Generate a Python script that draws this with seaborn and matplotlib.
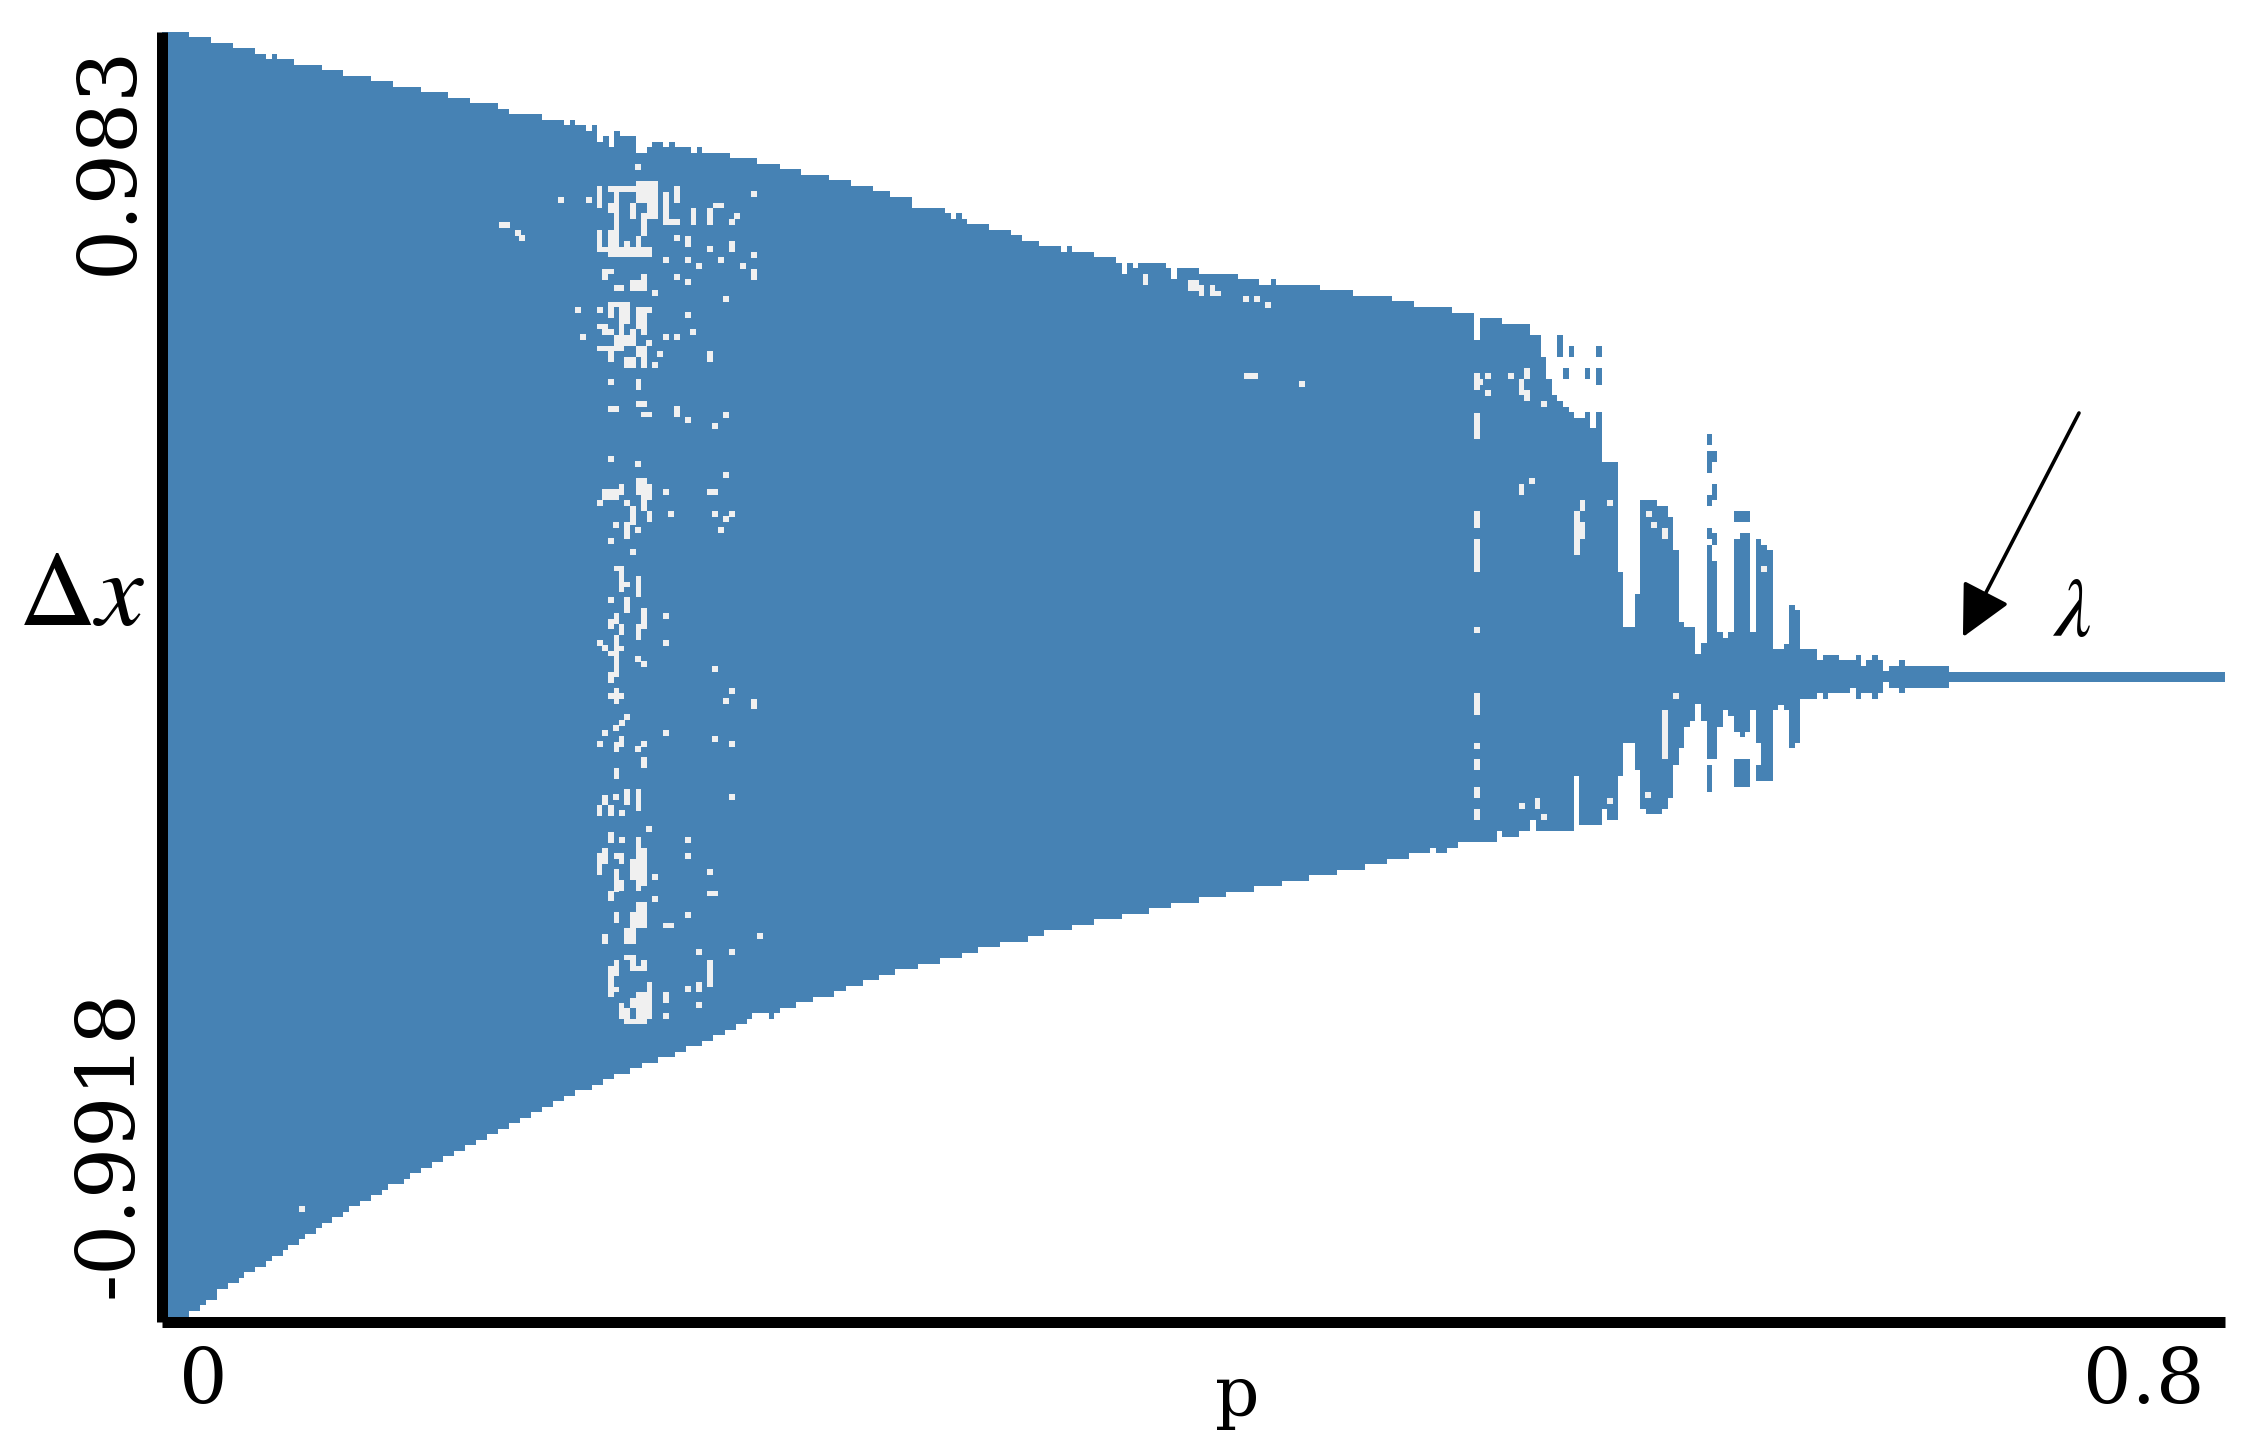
import numpy as np
import matplotlib
matplotlib.use("Agg")
import matplotlib.pyplot as plt
import matplotlib.transforms as mtrans
import seaborn as sns

# --- tick labels and axis ranges ---
P_RANGE = [0.0, 0.8]
DX_RANGE = [-0.9918, 0.983]
P_TICK_LABELS = ["0", "0.8"]
DX_TICK_LABELS = ["-0.9918", "0.983"]

# --- upper envelope of the attractor (p where a level starts, level) ---
upper_p = [0, .0107, .0191, .0278, .0363, .0406, .0427, .0448, .0513, .0621, .0705, .0813, .0897, .1005, .1112, .1197,
           .1304, .1348, .1476, .1560, .1583, .1604, .1647, .1668, .1690, .1711, .1733, .1754, .1777, .1839, .1882,
           .1903, .1946, .1967, .1990, .2054, .2076, .2097, .2204, .2310, .2396, .2481, .2588, .2673, .2759, .2823,
           .2908, .3038, .3059, .3079, .3102, .3123, .3208, .3294, .3337, .3401, .3488, .3509, .3529, .3616, .3701,
           .3722, .3744, .3765, .3786, .3895, .3915, .3936, .4021, .4172, .4256, .4300, .4321, .4492, .4621, .4770,
           .4855, .4956, .5005, .5090, .5111, .5198, .5305, .5347, .5369, .5390, .5412, .5434, .5455, .5477, .5519,
           .5540, .5561, .5583, .5647, .5668, .5712, .5733, .5797, .5840, .5861, .5883, .5903, .5947, .5968, .5990,
           .6011, .6032, .6054, .6075, .6097, .6118, .6160, .6181, .6203, .6224, .6246, .6290, .6310, .6331, .6353,
           .6418, .6440, .6503, .6568, .6588, .6610, .6631, .6653, .6674, .6696, .6738, .6759, .6930]
upper_dx = [.983, .9741, .9659, .9572, .9491, .9404, .9491, .9404, .9322, .9235, .9154, .9067, .8985, .8899, .8817, .8730,
            .8649, .8562, .8475, .8393, .8475, .8393, .8312, .8393, .8143, .8225, .8057, .8307, .8225, .7975, .8057,
            .8138, .8057, .8138, .8057, .7975, .8057, .7970, .7888, .7801, .7720, .7633, .7552, .7465, .7383, .7296,
            .7128, .7046, .6960, .7046, .6960, .6878, .6791, .6710, .6623, .6541, .6454, .6541, .6454, .6373, .6286,
            .6117, .6286, .6204, .6286, .6204, .6036, .6204, .6117, .6036, .5949, .6036, .5949, .5868, .5781, .5699,
            .5612, .5608, .5526, .5108, .5439, .5358, .5184, .4847, .4510, .4260, .4174, .4087, .4005, .3918, .4005,
            .3755, .4005, .3245, .1556, .0719, .1219, .2658, .2566, .2398, .1893, .0795, .0714, .0295, .0464, .1974,
            .1724, .0632, .0550, .0632, .2061, .2148, .0632, .2061, .1974, .1893, .0372, .0459, .1050, .0969, .0372,
            .0203, .0285, .0203, .0285, .0122, .0203, .0285, .0203, .0035, .0122, .0203, .0122, .0024]

# --- lower envelope of the attractor ---
lower_p = [0, .0107, .0150, .0171, .0214, .0257, .0299, .0319, .0363, .0406, .0427, .0470, .0492, .0534, .0557, .0598,
           .0621, .0662, .0705, .0726, .0770, .0813, .0856, .0877, .0941, .0962, .1005, .1048, .1091, .1135, .1176,
           .1219, .1261, .1304, .1347, .1389, .1432, .1476, .1517, .1560, .1604, .1668, .1711, .1754, .1818, .1862,
           .1926, .1990, .2033, .2097, .2140, .2183, .2227, .2268, .2289, .2355, .2376, .2396, .2460, .2524, .2609,
           .2653, .2720, .2780, .2844, .2931, .3017, .3102, .3166, .3251, .3358, .3422, .3529, .3616, .3722, .3829,
           .3914, .4021, .4128, .4236, .4343, .4449, .4558, .4665, .4750, .4835, .4919, .4942, .4985, .5028, .5177,
           .5197, .5262, .5305, .5327, .5477, .5497, .5583, .5604, .5647, .5668, .5712, .5733, .5755, .5818, .5840,
           .5861, .5883, .5903, .5925, .5947, .5968, .5990, .6032, .6054, .6075, .6097, .6118, .6140, .6160, .6181,
           .6203, .6246, .6268, .6290, .6310, .6332, .6353, .6418, .6440, .6460, .6545, .6568, .6588, .6631, .6653,
           .6674, .6696, .6738, .6759, .6930]
lower_dx = [-.9918, -.9758, -.9671, -.9585, -.9416, -.9335, -.9248, -.9166, -.9079, -.8998, -.8911, -.8824, -.8743, -.8656,
            -.8574, -.8487, -.8406, -.8319, -.8237, -.8151, -.8069, -.7982, -.7901, -.7814, -.7732, -.7645, -.7564,
            -.7477, -.7390, -.7309, -.7222, -.7140, -.7053, -.6972, -.6885, -.6798, -.6717, -.6630, -.6548, -.6462,
            -.6380, -.6293, -.6211, -.6125, -.6043, -.5956, -.5875, -.5788, -.5706, -.5619, -.5538, -.5451, -.5369,
            -.5283, -.5201, -.5283, -.5201, -.5114, -.5033, -.4946, -.4859, -.4778, -.4695, -.4610, -.4527, -.4441,
            -.4354, -.4272, -.4185, -.4104, -.4017, -.3930, -.3849, -.3762, -.3680, -.3594, -.3512, -.3425, -.3343,
            -.3257, -.3175, -.3088, -.3002, -.2920, -.2833, -.2751, -.2665, -.2751, -.2665, -.2583, -.2415, -.2496,
            -.2415, -.2241, -.2409, -.1567, -.2323, -.2073, -.2241, -.1567, -.1067, -.1481, -.2073, -.2154, -.2073,
            -.1909, -.1399, -.1144, -.0812, -.0725, -.0470, -.0725, -.1312, -.0812, -.0557, -.0644, -.0894, -.0975,
            -.0894, -.0557, -.1062, -.1567, -.0557, -.0475, -.0557, -.1144, -.1062, -.0388, -.0302, -.0388, -.0302,
            -.0220, -.0388, -.0302, -.0388, -.0302, -.0133, -.0215, -.0302, -.0215, -.0129]

# --- detached islands of the attractor near the collapse ---
island_p0 = [.5412, .5455, .5561, .5434, .5519, .5561, .5990, .5990, .5990, .6011, .5990, .5990, .6011, .6097, .6181, .5990, .6097]
island_p1 = [.5434, .5477, .5583, .5455, .5540, .5583, .6011, .6032, .6011, .6032, .6011, .6011, .6032, .6160, .6246, .6011, .6160]
island_top = [.5184, .5016, .5016, .4679, .4679, .4679, .3668, .3413, .3245, .2903, .2740, .2235, .2148, .2485, -.1399, -.1399, -.1312]
island_bot = [.4847, .4847, .4847, .4510, .4510, .4424, .3500, .3245, .3077, .2658, .2571, .2061, .1974, .2316, -.1649, -.1817, -.1730]

# --- rectangular gaps inside the attractor ---
gap_p0 = [.1688, .1731, .1838, .1881, .1859, .1816, .1753, .1731, .1731, .1688, .1709, .1753, .1838, .1794, .1944, .1966,
          .1987, .2051, .2115, .2137, .2029, .2201, .2287, .1709, .1731, .1753, .1816, .1859, .1731, .1731, .1773, .1773,
          .1753, .1816, .1688, .1709, .1688, .1838, .1859, .1838, .1838, .1859, .1731, .1794, .2115, .1838, .1731, .1838,
          .1859, .1987, .1709, .1773, .1838, .1881, .1859, .1816, .1881, .1794, .2115,
          .1753, .1773, .1794, .1838, .1794, .1859, .1838, .1731, .1753, .1773, .1753, .1773, .1731, .1731, .1753, .1731,
          .2287, .1753, .1773, .1859, .1753, .1794, .1838, .1709, .1688, .1731, .1731, .1838, .1838, .1816, .1838, .1709,
          .1688, .1753, .1773, .1753, .1773, .1731, .1838, .1816, .1794, .1753, .1709, .1944, .2115, .1794, .1816, .1838,
          .1859, .1753, .1731, .1753, .1881, .1838, .1816, .1773, .1794, .1816, .1944, .2073, .2115,
          .5090, .5090, .5090, .5090, .5090, .5090, .5090, .5090,
          .5284, .5263, .5284, .5263, .5499, .5477, .5499, .5818, .5326, .5818,
          .3807, .3980, .4022, .4065, .4085, .4196, .1310]
gap_p1 = [.1709, .1859, .1923, .1923, .1881, .1838, .1773, .1753, .1753, .1709, .1731, .1901, .1859, .1816, .1966, .2009,
          .2009, .2073, .2137, .2179, .2051, .2222, .2309, .1731, .1753, .1794, .1881, .1881, .1816, .1753, .1816, .1794,
          .1838, .1838, .1731, .1753, .1794, .1881, .1881, .1901, .1881, .1881, .1753, .1838, .2137, .1859, .1773, .1881,
          .1901, .2009, .1773, .1794, .1881, .1901, .1881, .1838, .1901, .1816, .2157,
          .1794, .1794, .1816, .1859, .1816, .1881, .1859, .1753, .1773, .1794, .1773, .1794, .1753, .1753, .1773, .1794,
          .2309, .1773, .1794, .1881, .1773, .1816, .1859, .1731, .1709, .1753, .1753, .1859, .1881, .1838, .1859, .1731,
          .1709, .1794, .1794, .1773, .1794, .1753, .1881, .1838, .1838, .1773, .1731, .1987, .2157, .1838, .1838, .1881,
          .1881, .1773, .1753, .1773, .1901, .1881, .1838, .1794, .1816, .1881, .1966, .2094, .2137,
          .5111, .5111, .5111, .5111, .5111, .5111, .5111, .5111,
          .5305, .5284, .5305, .5284, .5519, .5499, .5519, .5839, .5346, .5839,
          .3826, .4022, .4041, .4085, .4107, .4250, .1352]
gap_top = [.7465, .7465, .7546, .7210, .7046, .7210, .7378, .7210, .6791, .6791, .6536, .6536, .6704, .6623, .7378, .6959,
           .7465, .7128, .7128, .7210, .6704, .6623, .6199, .6199, .6199, .5949, .6031, .6118, .5694, .5607, .5607, .5352,
           .5184, .5270, .5352, .5270, .5015, .5015, .4847, .5607, .5525, .5270, .4934, .4847, .4934, .4510, .4092, .4173,
           .4005, .4092, .2821, .2908, .2989, .2908, .2739, .2571, .2489, .2321, .2821,
           .1652, .1576, .1407, .1494, .1172, .1004, .0754, .0836, .0922, .0754, .0596, .0427, .0346, .0024, -.0221, -.0302,
           -.0384, -.1042, -.0956, -.1282, -.1446, -.1772, -.1772, -.1859, -.2017, -.2017, -.2425, -.2507, -.2675, -.2834, -.3252, -.2675,
           -.2752, -.2752, -.2834, -.2997, -.3160, -.3323, -.3492, -.3655, -.3900, -.3655, -.3982, -.3818, -.3323, -.4308, -.4390, -.4471,
           -.4390, -.4390, -.4471, -.4793, -.4717, -.4880, -.4962, -.5038, -.5125, -.5283, -.4880, -.4717, -.4390,
           .4597, .3995, .2485, .2061, -.0302, -.1312, -.1736, -.2073,
           .4679, .4510, .4342, .2903, .2658, .2485, .2316, .2229, -.1904, -.0557,
           .6112, .6026, .5944, .5944, .5862, .4597, .6910]
gap_bot = [.7128, .7378, .7210, .6959, .6704, .6959, .6373, .7046, .6373, .6454, .6454, .6373, .6536, .6536, .6873, .6873,
           .7210, .6873, .6873, .7128, .6536, .6454, .6031, .6031, .6118, .5862, .5862, .6031, .5607, .5439, .5352, .5184,
           .5015, .5184, .5270, .5184, .4934, .4847, .4679, .5525, .5270, .5184, .4765, .4679, .4765, .4342, .4005, .4087,
           .3923, .3923, .2658, .2739, .2739, .2658, .2489, .2275, .2321, .2066, .2739,
           .1576, .1254, .1331, .1172, .0922, .0682, .0514, .0682, .0754, .0596, -.0047, .0351, .0269, -.0139, -.0466, -.0384,
           -.0547, -.1195, -.1119, -.1446, -.1609, -.2017, -.2099, -.2017, -.2180, -.2180, -.2589, -.2675, -.3252, -.3160, -.3323, -.2915,
           -.3079, -.2834, -.2915, -.3339, -.3323, -.3487, -.3900, -.3900, -.4140, -.3818, -.4140, -.3900, -.3405, -.4390, -.4548, -.4548,
           -.4471, -.4630, -.4956, -.4875, -.5283, -.5283, -.5125, -.5283, -.5365, -.5365, -.5043, -.4880, -.4793,
           .4342, .3587, .2235, .1561, -.0634, -.1481, -.1904, -.2241,
           .4510, .4260, .4174, .2740, .2485, .1811, .2061, .2066, -.2073, -.1312,
           .5944, .5863, .5776, .5776, .5776, .4515, .6828]

# --- single-sample gaps ---
speck_p = [.1848, .2297, .1549, .1656, .2233, .2212, .1399, .1997, .2125, .2297, .1955, .2040, .2169, .2084, .2254, .1997, .2040,
           .1912, .2190, .1613, .1699, .1634, .2040, .2062, .1955, .1997, .1891, .1934, .1912, .1741, .2190, .2040, .2147,
           .1741, .1848, .2190, .1955, .1699, .1806, .1977, .2147, .2212, .2190, .1763, .1848, .2168,
           .1741, .1827, .1741, .1955, .1955, .1699, .1720, .1848, .1869, .2147, .2212, .2190, .1806, .1784, .1763, .1720,
           .1955, .2147, .1699, .1869, .1848, .2212, .1763, .2212, .1784, .1891, .1784, .2040, .2040, .2126, .1912, .1912,
           .2040, .2319, .2084, .2212, .2040, .2084, .1955,
           .5143, .5230, .5143, .5315, .5358, .5615, .5765, .5787, .6214, .5111,
           .5871, .5273, .5358, .5615, .5764, .5100, .5100,
           .4203, .4247, .4290, .4421, .1384, .0545]
speck_dx = [.7761, .7337, .7255, .7255, .7000, .6918, .6663, .6663, .6495, .6413, .6327, .6327, .6327, .6245, .6245, .6077, .5990,
            .5821, .5735, .5566, .5566, .5148, .5485, .5229, .5148, .5148, .5061, .4893, .4724, .4469, .3964, .3883, .3796,
            .3285, .3204, .3035, .2780, .2612, .2612, .2443, .2443, .2443, .2362, .2275, .2193, .2193,
            .2025, .1861, .1126, .0881, .0473, .0473, .0392, .0228, .0147, .0065, -.0262, -.0425, -.0670, -.0752, -.0833, -.0915,
            -.0915, -.0996, -.1078, -.1078, -.1160, -.1078, -.1895, -.1895, -.2140, -.2384, -.2548, -.2548, -.2793, -.3038, -.3119, -.3446,
            -.3691, -.4017, -.4262, -.4262, -.4834, -.5079, -.5242,
            .4556, .4556, .4301, .2954, .4133, .2617, .2444, .2275, .1602, .4470,
            -.0343, -.2027, -.2195, -.1945, -.1858, .0673, -.1103,
            .5735, .5735, .5648, .4433, .6744, -.8192]

# --- the surviving fixed-point line ---
line_p = [.6930, .8]
line_upper = [.0024, .0024]
line_lower = [-.0129, -.0129]

BLUE = "#4682B4"
GAP = "#F0F0F0"

sns.set_theme(style="white")
plt.rcParams["mathtext.fontset"] = "stix"
SERIF = ["DejaVu Serif", "Liberation Serif"]

W, H = 2248, 1451
fig = plt.figure(figsize=(W / 100, H / 100), dpi=100, facecolor="white")
ax = fig.add_axes([161.5 / W, (H - 1321.5) / H, (2225 - 161.5) / W, (1321.5 - 31.5) / H])

# Envelope as a stepped band sampled on the union of both sets of breakpoints
grid = np.union1d(np.union1d(upper_p, lower_p), P_RANGE)
up_idx = np.searchsorted(upper_p, grid, side="right") - 1
lo_idx = np.searchsorted(lower_p, grid, side="right") - 1
band_up = np.array(upper_dx)[up_idx]
band_lo = np.array(lower_dx)[lo_idx]
keep = grid <= line_p[0]
ax.fill_between(grid[keep], band_lo[keep], band_up[keep], step="post", color=BLUE, linewidth=0, zorder=1)
ax.fill_between(line_p, line_lower, line_upper, color=BLUE, linewidth=0, zorder=1)

ip0, ip1 = np.array(island_p0), np.array(island_p1)
it, ib = np.array(island_top), np.array(island_bot)
ax.bar(ip0, it - ib, width=ip1 - ip0, bottom=ib, align="edge", color=BLUE, linewidth=0, zorder=1)

gp0, gp1 = np.array(gap_p0), np.array(gap_p1)
gt, gb = np.array(gap_top), np.array(gap_bot)
n = min(map(len, (gp0, gp1, gt, gb)))
ax.bar(gp0[:n], (gt - gb)[:n], width=(gp1 - gp0)[:n], bottom=gb[:n], align="edge", color=GAP, linewidth=0, zorder=2)

sns.scatterplot(x=speck_p, y=speck_dx, marker="s", s=15.7, color=GAP, linewidth=0, ax=ax, zorder=2, legend=False)

ax.set_xlim(P_RANGE)
ax.set_ylim(DX_RANGE)

for side in ("top", "right"):
    ax.spines[side].set_visible(False)
for side in ("left", "bottom"):
    ax.spines[side].set_linewidth(7.92)
    ax.spines[side].set_color("black")
    ax.spines[side].set_capstyle("butt")
    ax.spines[side].set_zorder(5)

# Ticks: labels only, nudged inside the axis ends as in the reference
ax.set_xticks(P_RANGE, P_TICK_LABELS, fontfamily=SERIF, fontsize=55, color="black")
ax.set_yticks(DX_RANGE, DX_TICK_LABELS, fontfamily=SERIF, fontsize=58, color="black", rotation=90)
ax.tick_params(axis="x", length=0, pad=17)
ax.tick_params(axis="y", length=0, pad=9)


def nudge(label, dx_px, dy_px):
    label.set_transform(label.get_transform() + mtrans.ScaledTranslation(dx_px / 100, dy_px / 100, fig.dpi_scale_trans))


xl = ax.get_xticklabels()
xl[0].set_ha("center"); nudge(xl[0], 42, 0)
xl[1].set_ha("right"); nudge(xl[1], -21, 0)
yl = ax.get_yticklabels()
yl[0].set_va("bottom"); nudge(yl[0], 0, 24)
yl[1].set_va("top"); nudge(yl[1], 0, -13)

ax.set_xlabel("p", fontfamily=SERIF, fontsize=50, color="black", va="top")
ax.xaxis.set_label_coords((1237 - 161.5) / 2063.5, -0.033)
ax.set_ylabel(r"$\Delta x$", rotation=0, fontsize=77, color="black", ha="right", va="center")
ax.yaxis.set_label_coords(-0.008, (1321.5 - 596) / 1290)

ax.annotate("", xy=(.6984, .0560), xytext=(.7434, .3990),
            arrowprops=dict(arrowstyle="-|>,head_length=32,head_width=16", mutation_scale=1,
                            lw=2.6, color="black", shrinkA=0, shrinkB=0), zorder=6)
ax.text(.7403, .0930, r"$\lambda$", fontsize=60, color="black", ha="center", va="center")

fig.savefig("out.png", dpi=100, facecolor="white")
